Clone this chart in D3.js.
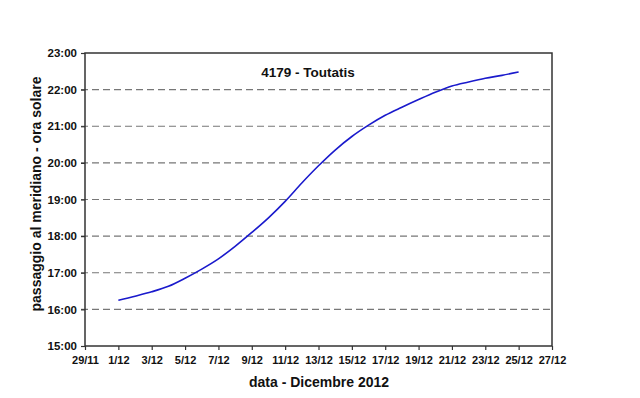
<!DOCTYPE html>
<html>
<head>
<meta charset="utf-8">
<script src="https://cdn.jsdelivr.net/npm/d3@7"></script>
<style>
  body { margin: 0; background: #fff; }
  text { font-family: "Liberation Sans", Arial, sans-serif; font-weight: bold; fill: #111; }
</style>
</head>
<body>
<div id="chart"></div>
<script>
// giorni di dicembre 2012 e ora del passaggio al meridiano (ore decimali)
const days = [1, 2, 3, 4, 5, 6, 7, 8, 9, 10, 11, 12, 13, 14, 15, 16, 17, 18, 19, 20, 21, 22, 23, 24, 25];
const hours = [16.25, 16.36, 16.48, 16.63, 16.85, 17.1, 17.38, 17.72, 18.1, 18.5, 18.95, 19.45, 19.92, 20.35, 20.72, 21.03, 21.3, 21.52, 21.73, 21.93, 22.1, 22.21, 22.31, 22.39, 22.48];
const xTickLabels = ["29/11", "1/12", "3/12", "5/12", "7/12", "9/12", "11/12", "13/12", "15/12", "17/12", "19/12", "21/12", "23/12", "25/12", "27/12"];
const yTicks = [15, 16, 17, 18, 19, 20, 21, 22, 23];

const W = 640, H = 398;
const margin = { top: 53, right: 88, bottom: 52, left: 85 };
const w = W - margin.left - margin.right, h = H - margin.top - margin.bottom;

const svg = d3.select("#chart").append("svg")
  .attr("width", W).attr("height", H);
const g = svg.append("g").attr("transform", `translate(${margin.left},${margin.top})`);

// 29/11 = giorno -1 (novembre ha 30 giorni)
const x = d3.scaleLinear().domain([-1, 27]).range([0, w]);
const y = d3.scaleLinear().domain([15, 23]).range([h, 0]);

// griglia tratteggiata
g.selectAll(".grid").data(yTicks.filter(t => t > 15 && t < 23)).enter()
  .append("line")
  .attr("x1", -4).attr("x2", w)
  .attr("y1", d => y(d)).attr("y2", d => y(d))
  .attr("stroke", "#777").attr("stroke-width", 1.2)
  .attr("stroke-dasharray", "7,4");

const xAxis = d3.axisBottom(x)
  .tickValues(d3.range(-1, 28, 2))
  .tickFormat((d, i) => xTickLabels[i])
  .tickSize(4).tickPadding(6);
const yAxis = d3.axisLeft(y)
  .tickValues(yTicks)
  .tickFormat(d => d + ":00")
  .tickSize(4).tickPadding(4);

const gx = g.append("g").attr("transform", `translate(0,${h})`).call(xAxis);
const gy = g.append("g").call(yAxis);
[gx, gy].forEach(a => {
  a.select(".domain").remove();
  a.selectAll(".tick line").attr("stroke", "#333").attr("stroke-width", 1.2);
  a.selectAll("text").attr("fill", "#111");
});
gx.selectAll("text").style("font-size", "11px");
gy.selectAll("text").style("font-size", "11.5px");

// cornice
g.append("rect")
  .attr("width", w).attr("height", h)
  .attr("fill", "none").attr("stroke", "#333").attr("stroke-width", 1.5);

const line = d3.line()
  .x((d, i) => x(days[i]))
  .y(d => y(d))
  .curve(d3.curveMonotoneX);

g.append("path")
  .datum(hours)
  .attr("d", line)
  .attr("fill", "none")
  .attr("stroke", "#1a1acc")
  .attr("stroke-width", 1.6);

svg.append("text")
  .attr("x", 308).attr("y", 77)
  .attr("text-anchor", "middle")
  .style("font-size", "13.5px")
  .text("4179 - Toutatis");

svg.append("text")
  .attr("x", 319).attr("y", 387)
  .attr("text-anchor", "middle")
  .style("font-size", "14px")
  .text("data - Dicembre 2012");

svg.append("text")
  .attr("transform", "translate(41,194) rotate(-90)")
  .attr("text-anchor", "middle")
  .style("font-size", "14px")
  .text("passaggio al meridiano - ora solare");
</script>
</body>
</html>
